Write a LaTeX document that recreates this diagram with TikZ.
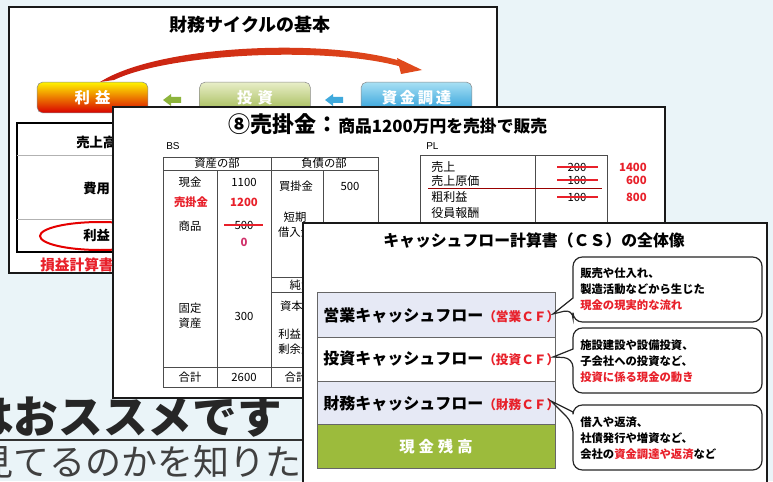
\documentclass[tikz,border=0pt]{standalone}
\usepackage{fontspec}
\setmainfont{Noto Sans CJK JP}
\newfontfamily\latf{Liberation Sans}
\newcommand\fsz[2]{\fontsize{#1}{#2}\selectfont}
\definecolor{bgc}{HTML}{EAF4F8}
\definecolor{cfred}{HTML}{E8202A}
\definecolor{pinkred}{HTML}{D0306A}
\definecolor{cflav}{HTML}{E6E9F5}
\definecolor{olivec}{HTML}{9CBB3C}
\definecolor{arcL}{HTML}{C81E10}
\definecolor{arcM}{HTML}{B09A6A}
\definecolor{arcR}{HTML}{E04A1C}
\definecolor{garrow}{HTML}{8DB43C}
\definecolor{barrow}{HTML}{3FA9DC}
\newcommand\cfsubfont{\color{cfred}\fsz{9.5pt}{10pt}}
\begin{document}
\begin{tikzpicture}[x=0.75pt,y=-0.75pt,
  slideframe/.style={draw=black!90, line width=1.6pt, fill=white},
  dblrule/.style={draw=black!40, double=white, double distance=0.8pt, line width=0.5pt},
  tbl/.style={draw=black!70, line width=0.6pt},
  tx/.style={inner sep=0pt, font=\fsz{8.5pt}{11pt}},
  cyclebox/.style={rectangle, rounded corners=4pt, minimum width=83pt, minimum height=23pt,
     draw=black!45, line width=0.4pt, text=white, font=\bfseries\fsz{11.5pt}{12pt}},
  callout/.style={draw=black!85, line width=0.9pt, fill=white},
  cotext/.style={inner sep=0pt, anchor=west, align=left, font=\bfseries\fsz{8.5pt}{12pt}},
  cfrow/.style={inner sep=0pt, anchor=west, font=\bfseries\fsz{12pt}{12pt}}]
\fill[bgc] (0,0) rectangle (773,481);
\useasboundingbox (0,0) rectangle (773,481);
\clip (0,0) rectangle (773,481);

% ---------- page text behind the slides ----------
\node[anchor=east, inner sep=0pt, font=\bfseries\fsz{33.5pt}{34pt}, text=black!85] (rec) at (282,417) {はおススメです};
\draw[black!80, line width=1.4pt] (0,440) -- (303,440);
\node[anchor=east, inner sep=0pt, font=\fsz{27pt}{27pt}, text=black!75] (know) at (302,462) {見てるのかを知りた};

% ---------- slide 1 ----------
\draw[slideframe] (9,7) rectangle (497,273);
\node[font=\bfseries\fsz{13.5pt}{14pt}] (t1) at (250,25) {財務サイクルの基本};
\draw[dblrule] (10,42) -- (496,42);
\shade[left color=arcL, middle color=arcM, right color=arcR]
  (100,82) .. controls (160,44) and (330,38) .. (404,62) -- (402,67)
  .. controls (330,46) and (170,53) .. (114,80) -- cycle;
\fill[arcR] (397,58) -- (422,70) -- (401,74) -- cycle;
\node[cyclebox, top color=yellow!90!orange, bottom color=red!85!black] (profit) at (92.5,97.5) {利\hspace{4pt}益};
\node[cyclebox, top color={rgb,255:red,232;green,238;blue,200}, bottom color={rgb,255:red,160;green,184;blue,80}] (invest) at (255,97.5) {投\hspace{4pt}資};
\node[cyclebox, top color={rgb,255:red,168;green,224;blue,244}, bottom color={rgb,255:red,40;green,156;blue,216}] (fund) at (416.5,97.5) {資\hspace{2pt}金\hspace{2pt}調\hspace{2pt}達};
\fill[garrow] (163,100) -- (171,94) -- (171,97) -- (181,97) -- (181,103) -- (171,103) -- (171,106) -- cycle;
\fill[barrow] (325,100) -- (333,94) -- (333,97) -- (343,97) -- (343,103) -- (333,103) -- (333,106) -- cycle;
\draw[black, line width=1pt] (17,123) rectangle (200,252);
\draw[black!30, line width=0.5pt] (17,155) -- (200,155) (17,219) -- (200,219);
\node[anchor=west, inner sep=0pt, font=\bfseries\fsz{10pt}{10pt}] (sales1) at (76,142) {売上高};
\node[anchor=west, inner sep=0pt, font=\bfseries\fsz{10pt}{10pt}] (cost1) at (83,188) {費用};
\node[anchor=west, inner sep=0pt, font=\bfseries\fsz{10pt}{10pt}] (prof1) at (83,235) {利益};
\draw[red!90!black, line width=1.5pt] (100,236) ellipse [x radius=45pt, y radius=10.5pt];
\node[anchor=west, inner sep=0pt, text=cfred, font=\bfseries\fsz{11pt}{11pt}] (pl1) at (40,265) {損益計算書};

% ---------- slide 2 ----------
\draw[slideframe] (113,107) rectangle (665,398);
\node[anchor=west, inner sep=0pt, font=\bfseries] (t2) at (228,124) {{\fsz{16.5pt}{17pt}⑧売掛金：}{\fsz{12.6pt}{13pt}商品1200万円を売掛で販売}};
\draw[dblrule] (114,137) -- (664,137);
\node[anchor=west, inner sep=0pt, font=\latf\fsz{7.5pt}{8pt}] (bs) at (166,146) {BS};
\node[anchor=west, inner sep=0pt, font=\latf\fsz{7.5pt}{8pt}] (pl) at (426,146) {PL};
% BS table
\draw[tbl] (163,157) rectangle (378,387);
\draw[tbl] (163,170) -- (378,170) (163,367) -- (378,367)
  (217,170) -- (217,387) (271,157) -- (271,387) (323,170) -- (323,387)
  (271,277) -- (378,277) (271,292) -- (378,292);
\node[tx] (asset) at (217,163.5) {資産の部};
\node[tx] (liab) at (324,163.5) {負債の部};
\node[tx] (cash) at (190,182) {現金};
\node[tx] (cashv) at (244,182) {1100};
\node[tx, text=cfred, font=\bfseries\fsz{8.5pt}{11pt}] (ar) at (191,202) {売掛金};
\node[tx, text=cfred, font=\bfseries\fsz{8.5pt}{11pt}] (arv) at (244,202) {1200};
\node[tx] (goods) at (190,226) {商品};
\node[tx] (goodsv) at (244,225) {500};
\draw[cfred, line width=1pt] (224,225) -- (263,225);
\node[tx, text=pinkred, font=\bfseries\fsz{8.5pt}{11pt}] (goodsn) at (244,242) {0};
\node[tx, align=center] (fixed) at (190,316) {固定\\資産};
\node[tx] (fixedv) at (244,316) {300};
\node[tx] (total) at (190,377) {合計};
\node[tx] (totalv) at (244,377) {2600};
\node[tx] (ap) at (296,186) {買掛金};
\node[tx] (apv) at (350,186) {500};
\node[tx, align=center] (loan) at (295,225) {短期\\借入金};
\node[tx] (net) at (318,285) {純資産の部};
\node[tx] (capital) at (297,306) {資本金};
\node[tx, anchor=west, align=left] (retained) at (278,342) {利益\\剰余金};
\node[tx] (total2) at (296,377) {合計};
% PL table
\draw[tbl] (420,230) -- (420,155) -- (607,155) -- (607,230) (535,155) -- (535,230);
\draw[red!60!black, line width=0.5pt] (428,188) -- (602,188);
\node[tx, anchor=west, font=\fsz{9pt}{11pt}] (plsales) at (431,167) {売上};
\node[tx, anchor=west, font=\fsz{9pt}{11pt}] (plcogs) at (431,181) {売上原価};
\node[tx, anchor=west, font=\fsz{9pt}{11pt}] (plgross) at (431,197) {粗利益};
\node[tx, anchor=west, font=\fsz{9pt}{11pt}] (plexec) at (431,213) {役員報酬};
\node[tx] (o1) at (577,167) {200};
\node[tx] (o2) at (577,180) {100};
\node[tx] (o3) at (577,197) {100};
\draw[cfred, line width=1pt] (557,167) -- (598,167) (557,180) -- (598,180) (557,197) -- (598,197);
\node[tx, anchor=east, text=cfred, font=\bfseries\fsz{8.5pt}{11pt}] (n1) at (647,167) {1400};
\node[tx, anchor=east, text=cfred, font=\bfseries\fsz{8.5pt}{11pt}] (n2) at (647,180) {600};
\node[tx, anchor=east, text=cfred, font=\bfseries\fsz{8.5pt}{11pt}] (n3) at (647,197) {800};

% ---------- slide 3 ----------
\draw[slideframe] (303,223) rectangle (767,495);
\node[font=\bfseries\fsz{11.9pt}{13pt}] (t3) at (534,241) {キャッシュフロー計算書（ＣＳ）の全体像};
\draw[dblrule] (304,253) -- (766,253);
\fill[cflav] (317,292) rectangle (555,337);
\fill[white] (317,337) rectangle (555,381);
\fill[cflav] (317,381) rectangle (555,424);
\fill[olivec] (317,424) rectangle (555,468);
\draw[black!60, line width=0.6pt] (317,292) rectangle (555,468)
  (317,337) -- (555,337) (317,381) -- (555,381) (317,424) -- (555,424);
\node[cfrow] (opcf) at (323,316) {営業キャッシュフロー{\cfsubfont（営業ＣＦ）}};
\node[cfrow] (invcf) at (323,359) {投資キャッシュフロー{\cfsubfont（投資ＣＦ）}};
\node[cfrow] (fincf) at (323,404) {財務キャッシュフロー{\cfsubfont（財務ＣＦ）}};
\node[inner sep=0pt, text=white, font=\bfseries\fsz{11.5pt}{12pt}] (bal) at (436,447) {現\hspace{3pt}金\hspace{3pt}残\hspace{3pt}高};
% callouts
\draw[callout] (573,298) [rounded corners=7pt] -- (573,257) -- (762,257) -- (762,322) -- (573,322) -- (573,309) [sharp corners] -- (553,314) -- cycle;
\draw[callout] (573,349) [rounded corners=7pt] -- (573,328) -- (762,328) -- (762,393) -- (573,393) -- (573,358) [sharp corners] -- (553,357) -- cycle;
\draw[callout] (573,412) [rounded corners=7pt] -- (573,405) -- (762,405) -- (762,470) -- (573,470) -- (573,423) [sharp corners] -- (551,401) -- cycle;
\node[cotext] (c1) at (580,289) {販売や仕入れ、\\製造活動などから生じた\\\textcolor{cfred}{現金の現実的な流れ}};
\node[cotext] (c2) at (580,361) {施設建設や設備投資、\\子会社への投資など、\\\textcolor{cfred}{投資に係る現金の動き}};
\node[cotext] (c3) at (580,438) {借入や返済、\\社債発行や増資など、\\会社の\textcolor{cfred}{資金調達や返済}など};
\end{tikzpicture}
\end{document}
